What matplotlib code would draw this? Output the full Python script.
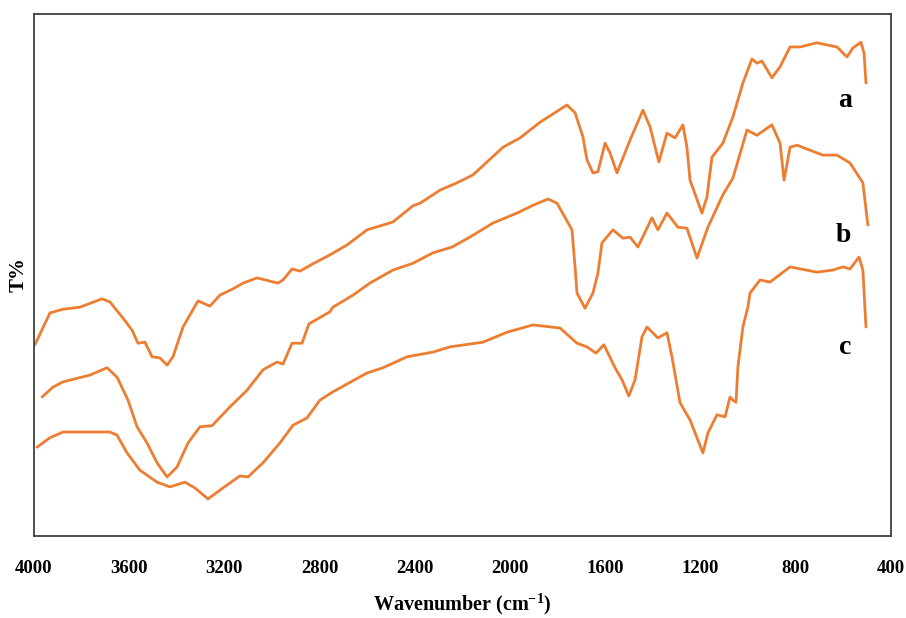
import matplotlib
matplotlib.use("Agg")
import matplotlib.pyplot as plt

# -------------------------
# FTIR DATA (T% in arbitrary units 0..100)
# -------------------------
wn_a = [3996, 3933, 3878, 3807, 3714, 3681, 3626, 3588, 3563, 3534, 3504, 3471,
        3441, 3416, 3374, 3311, 3261, 3219, 3164, 3122, 3063, 2975, 2954, 2916,
        2883, 2828, 2757, 2685, 2601, 2492, 2408, 2378, 2294, 2223, 2156, 2030,
        1958, 1874, 1761, 1727, 1694, 1677, 1652, 1631, 1601, 1580, 1551, 1496,
        1442, 1412, 1375, 1341, 1307, 1274, 1257, 1244, 1194, 1173, 1152, 1106,
        1064, 1022, 984, 963, 942, 900, 866, 824, 782, 711, 627, 585, 560, 526,
        513, 505]
t_a = [36.6, 42.7, 43.4, 43.8, 45.4, 44.8, 41.7, 39.4, 36.9, 37.1, 34.3, 34.1,
       32.7, 34.3, 40.0, 45.0, 44.0, 46.1, 47.3, 48.4, 49.4, 48.4, 49.0, 51.1,
       50.7, 52.1, 53.8, 55.7, 58.6, 60.1, 63.2, 63.7, 66.2, 67.6, 69.1, 74.4,
       76.2, 79.2, 82.5, 81.0, 76.4, 72.0, 69.5, 69.7, 75.2, 73.3, 69.5, 75.8,
       81.5, 78.3, 71.6, 77.1, 76.2, 78.7, 74.4, 68.1, 61.8, 64.9, 72.5, 75.2,
       80.2, 86.7, 91.3, 90.5, 90.9, 87.7, 89.8, 93.6, 93.6, 94.4, 93.6, 91.7,
       93.4, 94.5, 92.4, 86.7]

wn_b = [3966, 3920, 3878, 3765, 3693, 3651, 3605, 3567, 3525, 3483, 3441, 3399,
        3353, 3303, 3252, 3177, 3105, 3038, 2979, 2954, 2916, 2874, 2845, 2757,
        2744, 2660, 2589, 2492, 2408, 2324, 2244, 2169, 2072, 1971, 1904, 1841,
        1803, 1740, 1727, 1719, 1685, 1652, 1631, 1614, 1568, 1526, 1496, 1463,
        1404, 1379, 1341, 1295, 1257, 1215, 1169, 1106, 1064, 1026, 1005, 963,
        900, 866, 849, 824, 795, 686, 627, 572, 518, 497]
t_b = [26.6, 28.5, 29.5, 30.8, 32.2, 30.4, 26.0, 20.9, 17.8, 14.0, 11.3, 13.2,
       17.8, 20.9, 21.1, 24.7, 27.9, 31.8, 33.3, 32.9, 36.9, 36.9, 40.6, 42.9,
       43.8, 46.1, 48.4, 50.9, 52.2, 54.2, 55.3, 57.2, 59.9, 61.8, 63.3, 64.5,
       63.7, 58.6, 51.5, 46.5, 43.6, 46.5, 50.3, 56.1, 58.6, 57.0, 57.2, 55.3,
       60.9, 58.6, 61.8, 59.1, 58.9, 53.2, 59.1, 65.3, 68.5, 74.4, 77.7, 76.7,
       78.7, 75.2, 68.1, 74.4, 74.8, 72.9, 72.9, 71.4, 67.6, 59.5]

wn_c = [3987, 3933, 3878, 3807, 3681, 3651, 3609, 3555, 3483, 3429, 3366, 3324,
        3269, 3206, 3135, 3101, 3038, 2967, 2912, 2853, 2799, 2744, 2601, 2534,
        2433, 2324, 2252, 2114, 2013, 1904, 1790, 1719, 1677, 1639, 1606, 1559,
        1530, 1501, 1475, 1446, 1425, 1379, 1341, 1320, 1286, 1244, 1190, 1169,
        1131, 1097, 1076, 1064, 1051, 1043, 1022, 1001, 992, 950, 908, 824, 711,
        644, 602, 572, 534, 518, 505]
t_c = [17.0, 18.8, 19.9, 19.9, 19.9, 19.3, 15.9, 12.6, 10.3, 9.4, 10.3, 9.2,
       7.1, 9.2, 11.5, 11.3, 14.0, 17.8, 21.2, 22.6, 26.0, 27.6, 31.2, 32.2,
       34.3, 35.2, 36.2, 37.1, 39.0, 40.4, 39.8, 36.9, 36.2, 35.0, 36.6, 32.2,
       29.9, 26.8, 29.9, 38.1, 40.0, 37.9, 38.9, 34.3, 25.5, 22.2, 15.9, 19.7,
       23.2, 22.8, 26.6, 26.0, 25.6, 32.3, 40.0, 43.8, 46.5, 49.0, 48.6, 51.5,
       50.5, 50.9, 51.5, 51.1, 53.4, 50.9, 40.0]

curve_names = ["a", "b", "c"]
label_wn = [593, 602, 593]
label_t = [83.4, 57.6, 36.0]

x_ticks = [4000, 3600, 3200, 2800, 2400, 2000, 1600, 1200, 800, 400]

# -------------------------
# STYLE
# -------------------------
plt.rcParams["font.family"] = ["Liberation Serif", "DejaVu Serif"]
plt.rcParams["font.weight"] = "bold"
plt.rcParams["mathtext.fontset"] = "custom"
plt.rcParams["mathtext.rm"] = "Liberation Serif:bold"
plt.rcParams["mathtext.it"] = "Liberation Serif:bold"
plt.rcParams["mathtext.bf"] = "Liberation Serif:bold"

line_color = "#ED7D31"

fig = plt.figure(figsize=(9.06, 6.18), dpi=100)
ax = fig.add_axes([0.0375, 0.1327, 0.9459, 0.8454])

for wn, t in [(wn_a, t_a), (wn_b, t_b), (wn_c, t_c)]:
    ax.plot(wn, t, color=line_color, lw=2.0, solid_joinstyle="round",
            solid_capstyle="round")

for name, x, y in zip(curve_names, label_wn, label_t):
    ax.text(x, y, name, fontsize=20, fontweight="bold", ha="center",
            va="center", color="black")

ax.set_xlim(4000, 400)
ax.set_ylim(0, 100)
ax.set_xticks(x_ticks)
ax.set_xticklabels([str(v) for v in x_ticks], fontsize=13.5, fontweight="bold")
ax.set_yticks([])
ax.tick_params(axis="x", length=0, pad=17)

for sp in ax.spines.values():
    sp.set_color("#404040")
    sp.set_linewidth(1.3)

ax.set_xlabel(r"Wavenumber (cm$^{-1}$)", fontsize=14.5, fontweight="bold",
              labelpad=11)
ax.set_ylabel("T%", fontsize=15, fontweight="bold", labelpad=4)

fig.savefig("out.png", dpi=100)
